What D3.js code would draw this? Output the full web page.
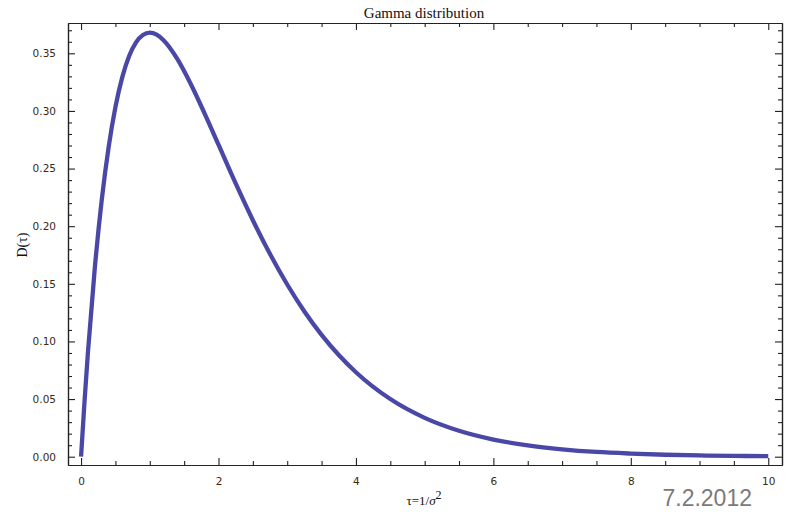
<!DOCTYPE html>
<html>
<head>
<meta charset="utf-8">
<script src="https://cdn.jsdelivr.net/npm/d3@7"></script>
<style>
  body { margin: 0; background: #fff; }
  .tick text { font-family: "DejaVu Sans", sans-serif; font-size: 10.5px; fill: #3a2a10; }
</style>
</head>
<body>
<div id="chart"></div>
<script>
// values
var tauValues = [0, 0.05, 0.1, 0.2, 0.3, 0.4, 0.5, 0.6, 0.7, 0.8, 0.9, 1.0, 1.1, 1.2, 1.4, 1.6, 1.8, 2.0,
    2.25, 2.5, 2.75, 3.0, 3.25, 3.5, 3.75, 4.0, 4.5, 5.0, 5.5, 6.0, 6.5, 7.0, 7.5, 8.0, 8.5, 9.0, 9.5, 10];
var densityValues = [0, 0.0476, 0.0905, 0.1637, 0.2222, 0.2681, 0.3033, 0.3293, 0.3476, 0.3595, 0.3659, 0.3679, 0.3662, 0.3614,
    0.3452, 0.3230, 0.2975, 0.2707, 0.2371, 0.2052, 0.1758, 0.1494, 0.1260, 0.1057, 0.0882, 0.0733,
    0.0500, 0.0337, 0.0225, 0.0149, 0.0098, 0.0064, 0.0041, 0.0027, 0.0017, 0.0011, 0.0007, 0.0005];
var xTickValues = [0, 2, 4, 6, 8, 10];
var yTickValues = [0.00, 0.05, 0.10, 0.15, 0.20, 0.25, 0.30, 0.35];

var svgWidth = 792;
var svgHeight = 515;

var margin = { top: 23, right: 10, bottom: 50, left: 68 };
var width = svgWidth - margin.left - margin.right;
var height = svgHeight - margin.top - margin.bottom;

var svg = d3.select("#chart")
    .append("svg")
    .attr("width", svgWidth)
    .attr("height", svgHeight);

var chartGroup = svg.append("g")
    .attr("transform", `translate(${margin.left}, ${margin.top})`);

var xScale = d3.scaleLinear()
    .domain([-0.19, 10.2])
    .range([0, width]);

var yScale = d3.scaleLinear()
    .domain([-0.0072, 0.3763])
    .range([height, 0]);

// minor ticks
var xMinor = d3.range(0, 10.01, 0.5).filter(v => xTickValues.indexOf(v) < 0);
var yMinor = d3.range(0, 0.3751, 0.01).map(v => +v.toFixed(2)).filter(v => yTickValues.indexOf(v) < 0);

function drawAxis(axis, transform, labels) {
    var g = chartGroup.append("g")
        .attr("transform", transform)
        .call(axis);
    g.select(".domain").attr("stroke", "#222").attr("stroke-width", 1.2);
    g.selectAll(".tick line").attr("stroke", "#222").attr("stroke-width", 1.1);
    if (!labels) g.selectAll(".tick text").remove();
    return g;
}

// bottom
drawAxis(d3.axisBottom(xScale).tickValues(xTickValues).tickFormat(d3.format("d")).tickSizeInner(-7).tickSizeOuter(0).tickPadding(13),
    `translate(0, ${height})`, true);
drawAxis(d3.axisBottom(xScale).tickValues(xMinor).tickSizeInner(-4).tickSizeOuter(0),
    `translate(0, ${height})`, false);
// top
drawAxis(d3.axisTop(xScale).tickValues(xTickValues).tickSizeInner(-7).tickSizeOuter(0), "translate(0,0)", false);
drawAxis(d3.axisTop(xScale).tickValues(xMinor).tickSizeInner(-4).tickSizeOuter(0), "translate(0,0)", false);
// left
drawAxis(d3.axisLeft(yScale).tickValues(yTickValues).tickFormat(d3.format(".2f")).tickSizeInner(-7).tickSizeOuter(0).tickPadding(12),
    "translate(0,0)", true);
drawAxis(d3.axisLeft(yScale).tickValues(yMinor).tickSizeInner(-4).tickSizeOuter(0), "translate(0,0)", false);
// right
drawAxis(d3.axisRight(yScale).tickValues(yTickValues).tickSizeInner(-7).tickSizeOuter(0), `translate(${width},0)`, false);
drawAxis(d3.axisRight(yScale).tickValues(yMinor).tickSizeInner(-4).tickSizeOuter(0), `translate(${width},0)`, false);

// curve
var points = tauValues.map((t, i) => [t, densityValues[i]]);
var line = d3.line()
    .x(d => xScale(d[0]))
    .y(d => yScale(d[1]))
    .curve(d3.curveMonotoneX);

chartGroup.append("path")
    .datum(points)
    .attr("d", line)
    .attr("fill", "none")
    .attr("stroke", "#4a48a6")
    .attr("stroke-width", 4.3)
    .attr("stroke-linecap", "butt");

// title and labels
svg.append("text")
    .attr("x", 424)
    .attr("y", 18)
    .attr("text-anchor", "middle")
    .attr("font-family", "Liberation Serif, serif")
    .attr("font-size", "15px")
    .attr("fill", "#111")
    .text("Gamma distribution");

svg.append("text")
    .attr("transform", "translate(27, 245) rotate(-90)")
    .attr("text-anchor", "middle")
    .attr("font-family", "Liberation Serif, serif")
    .attr("font-size", "14px")
    .attr("fill", "#111")
    .text("D(τ)");

var xLabel = svg.append("text")
    .attr("x", 424)
    .attr("y", 505)
    .attr("text-anchor", "middle")
    .attr("font-family", "Liberation Serif, serif")
    .attr("font-size", "13px")
    .attr("fill", "#111");
xLabel.append("tspan").text("τ=1/");
xLabel.append("tspan").attr("font-style", "italic").text("σ");
xLabel.append("tspan").attr("dy", -6).attr("font-size", "12px").text("2");

svg.append("text")
    .attr("x", 752)
    .attr("y", 506)
    .attr("text-anchor", "end")
    .attr("font-family", "Liberation Sans, Arial, sans-serif")
    .attr("font-size", "23px")
    .attr("fill", "#7a7a7a")
    .text("7.2.2012");
</script>
</body>
</html>
